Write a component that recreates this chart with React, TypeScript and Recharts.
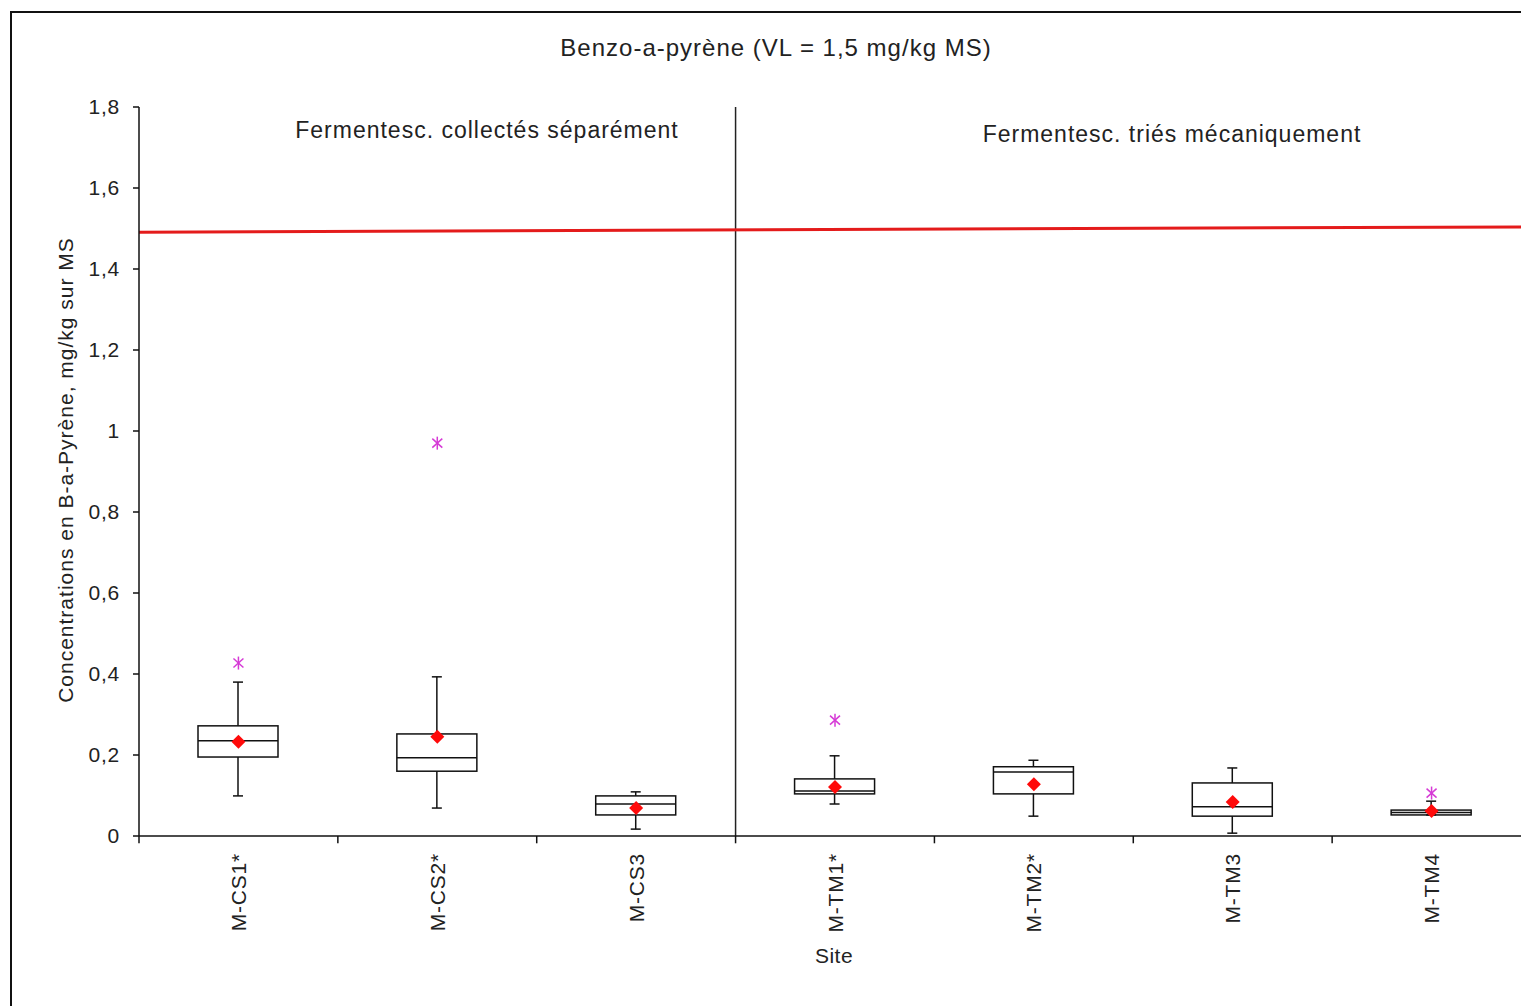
import React from 'react';
import { ComposedChart, Bar, Scatter, XAxis, YAxis, ReferenceLine } from 'recharts';

const FONT = '"Liberation Sans", Arial, sans-serif';

const sites = ['M-CS1*', 'M-CS2*', 'M-CS3', 'M-TM1*', 'M-TM2*', 'M-TM3', 'M-TM4'];
const sitePositions = [0.5, 1.5, 2.5, 3.5, 4.5, 5.5, 6.5];
const whiskerLow = [0.099, 0.069, 0.017, 0.079, 0.049, 0.007, 0.052];
const q1 = [0.195, 0.160, 0.052, 0.104, 0.104, 0.049, 0.052];
const median = [0.235, 0.193, 0.079, 0.111, 0.158, 0.072, 0.058];
const q3 = [0.272, 0.252, 0.099, 0.141, 0.171, 0.131, 0.064];
const whiskerHigh = [0.380, 0.393, 0.109, 0.198, 0.187, 0.168, 0.086];
const means = [0.233, 0.245, 0.069, 0.121, 0.128, 0.084, 0.062];
const outliers: (number | null)[] = [0.427, 0.970, null, 0.286, null, null, 0.106];

const yTicks = [0, 0.2, 0.4, 0.6, 0.8, 1, 1.2, 1.4, 1.6, 1.8];
const categoryBounds = [0, 1, 2, 3, 4, 5, 6, 7];
const groupDivider = 3;
const limitStart = 1.491;
const limitEnd = 1.504;

const title = 'Benzo-a-pyrène (VL = 1,5 mg/kg MS)';
const groupLabels = ['Fermentesc. collectés séparément', 'Fermentesc. triés mécaniquement'];
const yLabel = 'Concentrations en B-a-Pyrène, mg/kg sur MS';
const xLabel = 'Site';

const data = sites.map((site, i) => ({
  site,
  pos: sitePositions[i],
  wLow: whiskerLow[i],
  q1: q1[i],
  median: median[i],
  q3: q3[i],
  wHigh: whiskerHigh[i],
  mean: means[i],
  outlier: outliers[i],
}));

const BoxShape = (props: any) => {
  const { x, y, width, height, payload } = props;
  if (!payload) return <g />;
  const span = payload.wHigh - payload.wLow;
  const ppu = Math.abs(height) / span;
  const top = Math.min(y, y + height);
  const py = (v: number) => top + (payload.wHigh - v) * ppu;
  const cx = x + width / 2;
  const cap = 5;
  const s = '#111';
  return (
    <g>
      <line x1={cx} x2={cx} y1={py(payload.wHigh)} y2={py(payload.q3)} stroke={s} strokeWidth={1.5} />
      <line x1={cx} x2={cx} y1={py(payload.q1)} y2={py(payload.wLow)} stroke={s} strokeWidth={1.5} />
      <line x1={cx - cap} x2={cx + cap} y1={py(payload.wHigh)} y2={py(payload.wHigh)} stroke={s} strokeWidth={1.5} />
      <line x1={cx - cap} x2={cx + cap} y1={py(payload.wLow)} y2={py(payload.wLow)} stroke={s} strokeWidth={1.5} />
      <rect x={x} y={py(payload.q3)} width={width} height={Math.max(py(payload.q1) - py(payload.q3), 0.5)} fill="none" stroke={s} strokeWidth={1.5} />
      <line x1={x} x2={x + width} y1={py(payload.median)} y2={py(payload.median)} stroke={s} strokeWidth={1.5} />
    </g>
  );
};

const MeanShape = (props: any) => {
  const { cx, cy } = props;
  if (cx == null || cy == null || isNaN(cy)) return <g />;
  const r = 7;
  return <polygon points={`${cx},${cy - r} ${cx + r},${cy} ${cx},${cy + r} ${cx - r},${cy}`} fill="#ff0a0a" />;
};

const OutlierShape = (props: any) => {
  const { cx, cy, payload } = props;
  if (!payload || payload.outlier == null || cy == null || isNaN(cy)) return <g />;
  const c = '#d63ad6';
  const h = 6.5;
  const w = 5;
  return (
    <g stroke={c} strokeWidth={1.5}>
      <line x1={cx} x2={cx} y1={cy - h} y2={cy + h} />
      <line x1={cx - w} x2={cx + w} y1={cy - h + 2} y2={cy + h - 2} />
      <line x1={cx - w} x2={cx + w} y1={cy + h - 2} y2={cy - h + 2} />
    </g>
  );
};

const CatTick = (props: any) => {
  const { x, y, payload } = props;
  const ty = y + 17;
  return (
    <text x={x} y={ty} dy="0.36em" textAnchor="end" transform={`rotate(-90, ${x}, ${ty})`}
      fill="#222" fontSize={21} fontFamily={FONT} letterSpacing={0.8}>
      {payload.value}
    </text>
  );
};

const fmt = (v: number) => (v === 0 ? '0' : String(+v.toFixed(1)).replace('.', ','));

export default function App() {
  return (
    <div style={{ position: 'fixed', left: 0, top: 0, width: 1521, height: 1006, overflow: 'hidden', background: '#fff' }}>
      <div style={{ position: 'absolute', left: 10, top: 11, width: 1600, height: 1100, border: '2px solid #111', boxSizing: 'border-box' }} />
      <div style={{ position: 'absolute', left: 0, top: 0 }}>
        <ComposedChart width={1560} height={1006} data={data} margin={{ top: 107, right: 29, bottom: 0, left: 79 }}>
          <XAxis dataKey="site" interval={0} tickLine={false} tickSize={0} tickMargin={0} height={170}
            axisLine={{ stroke: '#111', strokeWidth: 1.5 }} tick={<CatTick />} />
          <XAxis xAxisId="n" dataKey="pos" type="number" domain={[0, 7]} allowDataOverflow hide />
          <YAxis domain={[0, 1.8]} ticks={yTicks} tickFormatter={fmt} width={60} tickSize={6} tickMargin={13}
            interval={0} axisLine={{ stroke: '#111', strokeWidth: 1.5 }} tickLine={{ stroke: '#111', strokeWidth: 1.5 }}
            tick={{ fill: '#222', fontSize: 21, fontFamily: FONT, letterSpacing: 0.8 }} />
          <ReferenceLine xAxisId="n" x={groupDivider} stroke="#222" strokeWidth={1.5} ifOverflow="visible" />
          {categoryBounds.map((b) => (
            <ReferenceLine key={b} xAxisId="n" segment={[{ x: b, y: 0 }, { x: b, y: -0.018 }]}
              stroke="#111" strokeWidth={1.5} ifOverflow="visible" />
          ))}
          <ReferenceLine xAxisId="n" segment={[{ x: 0, y: limitStart }, { x: 7, y: limitEnd }]}
            stroke="#e41b1b" strokeWidth={3} ifOverflow="visible" />
          <Bar dataKey={(d: any) => [d.wLow, d.wHigh]} barSize={80} shape={<BoxShape />} isAnimationActive={false} />
          <Scatter dataKey="mean" shape={<MeanShape />} isAnimationActive={false} />
          <Scatter dataKey="outlier" shape={<OutlierShape />} isAnimationActive={false} />
        </ComposedChart>
      </div>
      <svg width={1521} height={1006} style={{ position: 'absolute', left: 0, top: 0, pointerEvents: 'none' }}>
        <g fontFamily={FONT} fill="#222">
          <text x={776} y={56} textAnchor="middle" fontSize={24} letterSpacing={1}>{title}</text>
          <text x={487} y={138} textAnchor="middle" fontSize={23} letterSpacing={1}>{groupLabels[0]}</text>
          <text x={1172} y={142} textAnchor="middle" fontSize={23} letterSpacing={1}>{groupLabels[1]}</text>
          <text x={834} y={963} textAnchor="middle" fontSize={21} letterSpacing={0.5}>{xLabel}</text>
          <text x={73} y={470} textAnchor="middle" fontSize={21} letterSpacing={1} transform="rotate(-90, 73, 470)">{yLabel}</text>
        </g>
      </svg>
    </div>
  );
}
